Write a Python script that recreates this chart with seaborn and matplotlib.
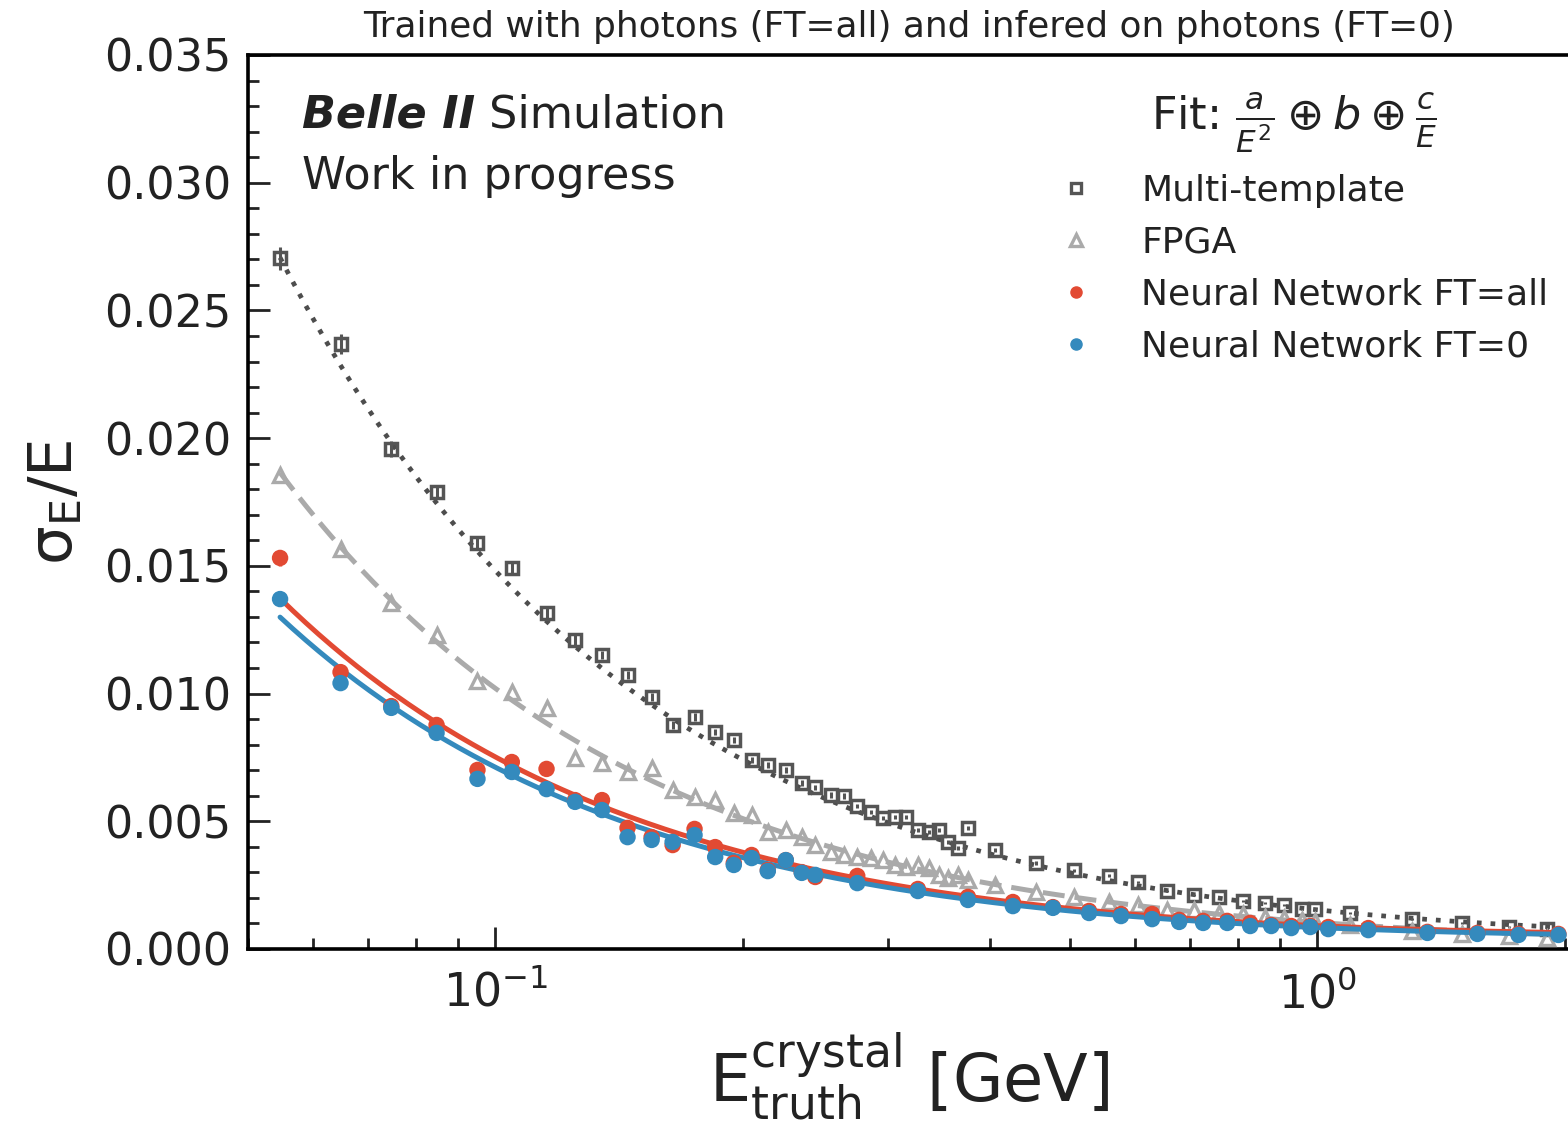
import numpy as np
import pandas as pd
import matplotlib
matplotlib.use("Agg")
import matplotlib.pyplot as plt
import matplotlib.ticker as mticker
from matplotlib.lines import Line2D
import seaborn as sns

# ---------------- data ----------------
e_mt = [0.0547, 0.0648, 0.0747, 0.0848, 0.0951, 0.1047, 0.1154, 0.1250, 0.1348, 0.1448,
        0.1549, 0.1643, 0.1747, 0.1851, 0.1950, 0.2050, 0.2145, 0.2256, 0.2359, 0.2450,
        0.2559, 0.2654, 0.2756, 0.2862, 0.2960, 0.3062, 0.3158, 0.3266, 0.3369, 0.3465,
        0.3553, 0.3654, 0.3758, 0.4053, 0.4546, 0.5058, 0.5580, 0.6053, 0.6566, 0.7083,
        0.7597, 0.8127, 0.8646, 0.9115, 0.9588, 0.9945, 1.0970, 1.3054, 1.5017, 1.7088,
        1.9055]

sigma_mt = [0.02705, 0.02369, 0.01958, 0.01789, 0.01589, 0.01492, 0.01315, 0.01210, 0.01151, 0.01073,
            0.00987, 0.00877, 0.00908, 0.00850, 0.00818, 0.00740, 0.00720, 0.00701, 0.00650, 0.00634,
            0.00603, 0.00599, 0.00560, 0.00536, 0.00513, 0.00517, 0.00517, 0.00466, 0.00458, 0.00466,
            0.00419, 0.00395, 0.00474, 0.00388, 0.00337, 0.00309, 0.00286, 0.00262, 0.00227, 0.00211,
            0.00204, 0.00188, 0.00180, 0.00172, 0.00157, 0.00157, 0.00141, 0.00117, 0.00102, 0.00086,
            0.00078]

err_mt = [4.5e-4, 4.0e-4, 3.2e-4, 2.8e-4, 2.4e-4, 2.2e-4, 2.0e-4, 1.8e-4, 1.7e-4, 1.6e-4,
          1.5e-4, 1.4e-4, 1.4e-4, 1.3e-4, 1.3e-4, 1.2e-4, 1.2e-4, 1.1e-4, 1.1e-4, 1.0e-4,
          1.0e-4, 1.0e-4, 0.9e-4, 0.9e-4, 0.9e-4, 0.9e-4, 0.8e-4, 0.8e-4, 0.8e-4, 0.8e-4,
          0.8e-4, 0.8e-4, 0.8e-4, 0.7e-4, 0.7e-4, 0.6e-4, 0.6e-4, 0.5e-4, 0.5e-4, 0.5e-4,
          0.5e-4, 0.4e-4, 0.4e-4, 0.4e-4, 0.4e-4, 0.4e-4, 0.4e-4, 0.3e-4, 0.3e-4, 0.3e-4,
          0.3e-4]

sigma_fpga = [0.01856, 0.01566, 0.01355, 0.01229, 0.01049, 0.01006, 0.00944, 0.00748, 0.00728, 0.00693,
              0.00709, 0.00622, 0.00595, 0.00583, 0.00532, 0.00525, 0.00458, 0.00466, 0.00438, 0.00407,
              0.00380, 0.00368, 0.00360, 0.00356, 0.00348, 0.00329, 0.00321, 0.00329, 0.00317, 0.00290,
              0.00278, 0.00290, 0.00270, 0.00251, 0.00223, 0.00204, 0.00184, 0.00172, 0.00153, 0.00153,
              0.00141, 0.00137, 0.00125, 0.00121, 0.00114, 0.00110, 0.00094, 0.00070, 0.00059, 0.00051,
              0.00043]

e_nn = [0.0547, 0.0648, 0.0747, 0.0848, 0.0951, 0.1047, 0.1154, 0.1250, 0.1348, 0.1448,
        0.1549, 0.1643, 0.1747, 0.1851, 0.1950, 0.2050, 0.2145, 0.2256, 0.2359, 0.2450,
        0.2756, 0.3266, 0.3758, 0.4262, 0.4768, 0.5276, 0.5770, 0.6295, 0.6791, 0.7263,
        0.7770, 0.8287, 0.8790, 0.9297, 0.9806, 1.0313, 1.1538, 1.3614, 1.5662, 1.7574,
        1.9653]

sigma_nn_all = [0.01531, 0.01084, 0.00951, 0.00877, 0.00701, 0.00732, 0.00705, 0.00583, 0.00583, 0.00474,
                0.00438, 0.00407, 0.00470, 0.00399, 0.00337, 0.00368, 0.00309, 0.00348, 0.00301, 0.00282,
                0.00286, 0.00235, 0.00204, 0.00184, 0.00164, 0.00149, 0.00137, 0.00137, 0.00114, 0.00110,
                0.00110, 0.00102, 0.00094, 0.00090, 0.00090, 0.00086, 0.00082, 0.00067, 0.00063, 0.00059,
                0.00059]

sigma_nn_0 = [0.01370, 0.01041, 0.00944, 0.00846, 0.00666, 0.00693, 0.00626, 0.00576, 0.00544, 0.00438,
              0.00427, 0.00419, 0.00446, 0.00360, 0.00329, 0.00356, 0.00305, 0.00348, 0.00298, 0.00290,
              0.00258, 0.00227, 0.00192, 0.00168, 0.00161, 0.00141, 0.00129, 0.00117, 0.00106, 0.00102,
              0.00102, 0.00090, 0.00090, 0.00082, 0.00086, 0.00078, 0.00074, 0.00063, 0.00059, 0.00055,
              0.00055]

# visible error bars of the first NN points
err_nn_all_first = [3.0e-4, 1.5e-4, 1.2e-4]
err_nn_0_first = [2.5e-4, 1.2e-4, 1.0e-4]

# fit parameters (a, b, c) for  a/E^2 (+) b (+) c/E
fit_mt = (2.0e-6, 0.00040, 0.00148)
fit_fpga = (1.0e-6, 0.00020, 0.00102)
fit_nn_all = (1.0e-6, 0.00052, 0.00075)
fit_nn_0 = (1.0e-6, 0.00045, 0.00071)

labels = ["Multi-template", "FPGA", "Neural Network FT=all", "Neural Network FT=0"]
title = "Trained with photons (FT=all) and infered on photons (FT=0)"

# ---------------- style ----------------
C_MT = "#555555"
C_FPGA = "#aaaaaa"
C_RED = "#E24A33"
C_BLUE = "#348ABD"

sns.set_theme(style="ticks")
plt.rcParams["font.family"] = ["DejaVu Sans"]
plt.rcParams["text.color"] = "#222222"
plt.rcParams["axes.labelcolor"] = "#222222"
plt.rcParams["xtick.color"] = "#222222"
plt.rcParams["ytick.color"] = "#222222"
plt.rcParams["mathtext.fontset"] = "dejavusans"

fig = plt.figure(figsize=(15.68, 11.27), dpi=100)
W, H = 1568.0, 1127.0
x0, x1, y0, y1 = 248, 1570, 55, 949
ax = fig.add_axes([x0 / W, 1 - y1 / H, (x1 - x0) / W, (y1 - y0) / H])


def model(e, p):
    a, b, c = p
    e = np.asarray(e)
    return np.sqrt((a / e ** 2) ** 2 + b ** 2 + (c / e) ** 2)


def fit_frame(e_lo, e_hi, p):
    grid = np.geomspace(e_lo, e_hi, 300)
    return pd.DataFrame({"E": grid, "sigma": model(grid, p)})


# fit curves
lw = 3.6
d = fit_frame(e_mt[0], e_nn[-1], fit_mt)
sns.lineplot(data=d, x="E", y="sigma", ax=ax, color="#4d4d4d", lw=3.4,
             linestyle=(0, (1, 1.9)), zorder=2, dash_capstyle="butt")
d = fit_frame(e_mt[0], e_mt[-1], fit_fpga)
sns.lineplot(data=d, x="E", y="sigma", ax=ax, color=C_FPGA, lw=lw,
             linestyle=(0, (4.4, 2.0)), zorder=2)
d = fit_frame(e_nn[0], e_nn[-1], fit_nn_all)
sns.lineplot(data=d, x="E", y="sigma", ax=ax, color=C_RED, lw=lw, zorder=4)
d = fit_frame(e_nn[0], e_nn[-1], fit_nn_0)
sns.lineplot(data=d, x="E", y="sigma", ax=ax, color=C_BLUE, lw=lw, zorder=5)

# data points
ax.errorbar(e_mt, sigma_mt, yerr=err_mt, fmt="s", ms=9, mfc="none", mec=C_MT,
            mew=2.5, ecolor=C_MT, elinewidth=2.2, zorder=3)
ax.errorbar(e_mt, sigma_fpga, fmt="^", ms=10.5, mfc="none", mec=C_FPGA,
            mew=2.4, zorder=3)

nn_all = pd.DataFrame({"E": e_nn, "sigma": sigma_nn_all})
nn_0 = pd.DataFrame({"E": e_nn, "sigma": sigma_nn_0})
sns.scatterplot(data=nn_all, x="E", y="sigma", ax=ax, color=C_RED, s=140,
                edgecolor="none", zorder=6)
ax.errorbar(e_nn[:3], sigma_nn_all[:3], yerr=err_nn_all_first, fmt="none",
            ecolor=C_RED, elinewidth=2.5, zorder=6)
sns.scatterplot(data=nn_0, x="E", y="sigma", ax=ax, color=C_BLUE, s=140,
                edgecolor="none", zorder=7)
ax.errorbar(e_nn[:3], sigma_nn_0[:3], yerr=err_nn_0_first, fmt="none",
            ecolor=C_BLUE, elinewidth=2.5, zorder=7)

# axes
ax.set_xscale("log")
ax.set_xlim(0.05, 2.03)
ax.set_ylim(0.0, 0.035)
ax.yaxis.set_major_locator(mticker.MultipleLocator(0.005))
ax.yaxis.set_minor_locator(mticker.MultipleLocator(0.001))
ax.yaxis.set_major_formatter(mticker.FormatStrFormatter("%.3f"))
ax.xaxis.set_major_locator(mticker.LogLocator(base=10))
ax.xaxis.set_minor_locator(mticker.LogLocator(base=10, subs=np.arange(2, 10)))
ax.xaxis.set_minor_formatter(mticker.NullFormatter())
ax.tick_params(which="both", direction="in", top=False, right=False, width=2)
ax.tick_params(axis="y", labelsize=32)
ax.tick_params(axis="x", labelsize=33)
ax.tick_params(which="major", length=16)
ax.tick_params(axis="x", which="major", pad=16)
ax.tick_params(axis="y", which="major", pad=12)
ax.tick_params(which="minor", length=8)
for s in ["left", "bottom", "top", "right"]:
    ax.spines[s].set_linewidth(2.6)
    ax.spines[s].set_color("black")

ax.set_xlabel(r"$\mathrm{E}_{\mathrm{truth}}^{\mathrm{crystal}}$ [GeV]",
              fontsize=47, labelpad=10)
ax.set_ylabel(r"σ$_{\mathrm{E}}$/E", fontsize=44, labelpad=14)
ax.set_title(title, fontsize=25.8, pad=13)

# Belle II labels
t1 = ax.text(0.041, 0.919, "Belle II", transform=ax.transAxes, fontsize=32,
             fontweight="bold", style="italic", va="baseline", ha="left")
ax.annotate(" Simulation", xy=(1, 0), xycoords=t1, fontsize=32,
            va="bottom", ha="left")
ax.text(0.041, 0.850, "Work in progress", transform=ax.transAxes, fontsize=32,
        va="baseline", ha="left")

# legend
handles = [
    Line2D([], [], marker="s", ls="none", mfc="none", mec=C_MT, ms=7.5, mew=2.4),
    Line2D([], [], marker="^", ls="none", mfc="none", mec=C_FPGA, ms=8.5, mew=2.4),
    Line2D([], [], marker="o", ls="none", color=C_RED, ms=8),
    Line2D([], [], marker="o", ls="none", color=C_BLUE, ms=8),
]
leg = ax.legend(handles, labels, loc="upper right", bbox_to_anchor=(1.0, 0.984),
                frameon=False, fontsize=26, title=r"Fit: $\frac{a}{E^2}\oplus b\oplus\frac{c}{E}$",
                title_fontsize=32, handletextpad=0.8, labelspacing=0.5,
                borderaxespad=0.2)

fig.savefig("out.png", dpi=100)
